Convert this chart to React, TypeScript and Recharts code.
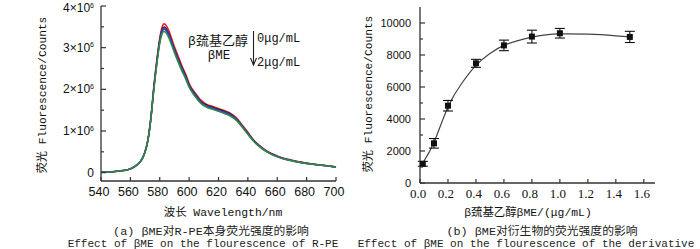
import React from 'react';
import { LineChart, Line, XAxis, YAxis, ComposedChart, Scatter, ErrorBar } from 'recharts';

// (a) emission spectra, wavelength in nm, intensity in 10^6 counts
const wavelength = [540, 545, 550, 555, 560, 565, 568, 570, 572, 574, 576, 578, 580, 582, 583, 584, 586, 588, 590, 592, 595, 598, 600, 604, 608, 612, 616, 620, 624, 628, 632, 636, 640, 644, 648, 652, 656, 660, 665, 670, 675, 680, 685, 690, 695, 700];
const specRed = [0.01, 0.015, 0.03, 0.05, 0.09, 0.2, 0.33, 0.5, 0.8, 1.33, 2.07, 2.7, 3.23, 3.53, 3.57, 3.55, 3.42, 3.23, 3.02, 2.84, 2.57, 2.33, 2.14, 1.92, 1.74, 1.64, 1.59, 1.54, 1.49, 1.43, 1.32, 1.15, 0.97, 0.78, 0.65, 0.54, 0.46, 0.4, 0.34, 0.3, 0.26, 0.23, 0.2, 0.18, 0.16, 0.14];
const specBlack = [0.01, 0.015, 0.03, 0.05, 0.09, 0.2, 0.33, 0.5, 0.79, 1.32, 2.05, 2.67, 3.19, 3.47, 3.5, 3.48, 3.35, 3.17, 2.97, 2.79, 2.53, 2.3, 2.11, 1.89, 1.71, 1.62, 1.57, 1.52, 1.47, 1.41, 1.3, 1.13, 0.95, 0.77, 0.64, 0.53, 0.45, 0.39, 0.33, 0.29, 0.26, 0.23, 0.2, 0.18, 0.16, 0.14];
const specPurple = [0.01, 0.015, 0.03, 0.05, 0.09, 0.2, 0.33, 0.5, 0.79, 1.31, 2.02, 2.63, 3.14, 3.41, 3.44, 3.42, 3.3, 3.12, 2.92, 2.74, 2.48, 2.25, 2.07, 1.85, 1.68, 1.59, 1.54, 1.49, 1.44, 1.38, 1.28, 1.11, 0.93, 0.76, 0.63, 0.52, 0.45, 0.39, 0.33, 0.29, 0.25, 0.22, 0.2, 0.18, 0.16, 0.13];
const specBlue = [0.01, 0.015, 0.03, 0.05, 0.09, 0.2, 0.33, 0.5, 0.79, 1.32, 2.03, 2.65, 3.16, 3.43, 3.46, 3.44, 3.32, 3.14, 2.94, 2.76, 2.5, 2.27, 2.09, 1.87, 1.69, 1.6, 1.55, 1.5, 1.45, 1.39, 1.29, 1.12, 0.94, 0.76, 0.63, 0.53, 0.45, 0.39, 0.33, 0.29, 0.25, 0.22, 0.2, 0.18, 0.16, 0.13];
const specGreen = [0.01, 0.015, 0.03, 0.05, 0.09, 0.2, 0.33, 0.5, 0.78, 1.3, 2.0, 2.6, 3.1, 3.36, 3.39, 3.37, 3.25, 3.07, 2.88, 2.7, 2.45, 2.22, 2.05, 1.83, 1.66, 1.57, 1.52, 1.47, 1.42, 1.36, 1.26, 1.1, 0.92, 0.75, 0.62, 0.52, 0.44, 0.38, 0.32, 0.28, 0.25, 0.22, 0.2, 0.18, 0.16, 0.13];

// (b) derivative fluorescence vs βME concentration
const conc = [0.02, 0.1, 0.2, 0.4, 0.6, 0.8, 1.0, 1.5];
const fluor = [1200, 2480, 4830, 7480, 8600, 9150, 9360, 9130];
const fluorErr = [150, 300, 330, 250, 330, 400, 300, 350];
const fitConc = [0.02, 0.1, 0.2, 0.3, 0.4, 0.5, 0.6, 0.7, 0.8, 0.9, 1.0, 1.2, 1.4, 1.5];
const fitFluor = [1250, 2550, 4750, 6250, 7350, 8100, 8600, 8900, 9120, 9260, 9320, 9300, 9200, 9130];

const leftXTicks = [540, 560, 580, 600, 620, 640, 660, 680, 700];
const leftYTicks = [0, 0.5, 1, 1.5, 2, 2.5, 3, 3.5, 4];
const rightXTicks = [0, 0.2, 0.4, 0.6, 0.8, 1.0, 1.2, 1.4, 1.6];
const rightYTicks = [0, 1000, 2000, 3000, 4000, 5000, 6000, 7000, 8000, 9000, 10000];

const spectra = wavelength.map((wl, i) => ({
  wl,
  red: specRed[i],
  black: specBlack[i],
  purple: specPurple[i],
  blue: specBlue[i],
  green: specGreen[i],
}));
const points = conc.map((x, i) => ({ x, y: fluor[i], err: fluorErr[i] }));
const fit = fitConc.map((x, i) => ({ x, fit: fitFluor[i] }));

const AXIS = '#333';
const MONO = "'Liberation Mono', 'Noto Sans CJK SC', monospace";
const SANS = "'Liberation Sans', Arial, sans-serif";
const SERIF = "'Liberation Serif', 'Noto Sans CJK SC', serif";

function LeftXTick({ x, y, payload }: any) {
  return (
    <g>
      <line x1={x} x2={x} y1={y} y2={y - 4} stroke={AXIS} strokeWidth={1.2} />
      <text x={x - 2} y={y + 15} textAnchor="middle" fontSize={12.5} fontFamily={SANS} fill="#111">
        {payload.value}
      </text>
    </g>
  );
}

function LeftYTick({ x, y, payload }: any) {
  const v = payload.value;
  const major = Number.isInteger(v);
  const base = Math.max(y + 4, 12);
  return (
    <g>
      <line x1={x} x2={x + (major ? 5 : 3)} y1={y} y2={y} stroke={AXIS} strokeWidth={1.2} />
      {major && (
        <text x={x - 7} y={base} textAnchor="end" fontSize={12} fontFamily={SANS} fill="#111">
          {v === 0 ? '0' : `${v}×10`}
          {v !== 0 && (
            <tspan dy={-4.5} fontSize={7}>
              6
            </tspan>
          )}
        </text>
      )}
    </g>
  );
}

function RightXTick({ x, y, payload }: any) {
  return (
    <g>
      <line x1={x} x2={x} y1={y} y2={y - 4} stroke={AXIS} strokeWidth={1.2} />
      <text x={x - 2} y={y + 15} textAnchor="middle" fontSize={13} fontFamily={SERIF} fill="#111">
        {payload.value.toFixed(1)}
      </text>
    </g>
  );
}

function RightYTick({ x, y, payload }: any) {
  const v = payload.value;
  const major = v % 2000 === 0;
  return (
    <g>
      <line x1={x} x2={x + (major ? 5 : 3)} y1={y} y2={y} stroke={AXIS} strokeWidth={1.2} />
      {major && (
        <text x={x - 9} y={y + 4} textAnchor="end" fontSize={11} fontFamily={SANS} fill="#111">
          {v}
        </text>
      )}
    </g>
  );
}

function SquareDot({ cx, cy }: any) {
  return <rect x={cx - 3} y={cy - 3} width={6} height={6} fill="#111" />;
}

export default function App() {
  return (
    <div style={{ position: 'absolute', left: 0, top: 0, width: 700, height: 249, background: '#fff', overflow: 'hidden' }}>
      <div style={{ position: 'absolute', left: 0, top: 0 }}>
        <LineChart width={350} height={249} data={spectra} margin={{ top: 6, right: 14, bottom: 48, left: 41 }}>
          <XAxis
            type="number"
            dataKey="wl"
            domain={[540, 700]}
            ticks={leftXTicks}
            height={20}
            tickSize={0}
            tickMargin={0}
            tickLine={false}
            axisLine={{ stroke: AXIS, strokeWidth: 1.3 }}
            tick={<LeftXTick />}
            interval={0}
          />
          <YAxis
            type="number"
            domain={[-0.2, 4]}
            ticks={leftYTicks}
            width={60}
            tickSize={0}
            tickMargin={0}
            tickLine={false}
            axisLine={{ stroke: AXIS, strokeWidth: 1.3 }}
            tick={<LeftYTick />}
            interval={0}
          />
          <Line type="monotone" dataKey="red" stroke="#e3262b" strokeWidth={1.6} dot={false} isAnimationActive={false} />
          <Line type="monotone" dataKey="black" stroke="#222" strokeWidth={1.4} dot={false} isAnimationActive={false} />
          <Line type="monotone" dataKey="purple" stroke="#8b3c9e" strokeWidth={1.4} dot={false} isAnimationActive={false} />
          <Line type="monotone" dataKey="blue" stroke="#3342c4" strokeWidth={1.5} dot={false} isAnimationActive={false} />
          <Line type="monotone" dataKey="green" stroke="#2f8a3c" strokeWidth={1.5} dot={false} isAnimationActive={false} />
        </LineChart>
      </div>

      <div style={{ position: 'absolute', left: 350, top: 0 }}>
        <ComposedChart width={350} height={249} margin={{ top: 7, right: 45, bottom: 46, left: 20 }}>
          <XAxis
            type="number"
            dataKey="x"
            domain={[0, 1.68]}
            ticks={rightXTicks}
            height={20}
            tickSize={0}
            tickMargin={0}
            tickLine={false}
            axisLine={{ stroke: AXIS, strokeWidth: 1.3 }}
            tick={<RightXTick />}
            interval={0}
            allowDataOverflow
          />
          <YAxis
            type="number"
            domain={[0, 11000]}
            ticks={rightYTicks}
            width={50}
            tickSize={0}
            tickMargin={0}
            tickLine={false}
            axisLine={{ stroke: AXIS, strokeWidth: 1.3 }}
            tick={<RightYTick />}
            interval={0}
          />
          <Line data={fit} type="natural" dataKey="fit" stroke="#444" strokeWidth={1.2} dot={false} isAnimationActive={false} />
          <Scatter data={points} dataKey="y" shape={<SquareDot />} isAnimationActive={false}>
            <ErrorBar dataKey="err" direction="y" width={5} stroke="#111" strokeWidth={1.1} />
          </Scatter>
        </ComposedChart>
      </div>

      <svg width={700} height={249} style={{ position: 'absolute', left: 0, top: 0, pointerEvents: 'none' }}>
        {/* legend note in (a) */}
        <text x={218} y={45} textAnchor="middle" fontSize={13} fontFamily={MONO} fill="#111">β巯基乙醇</text>
        <text x={219} y={59} textAnchor="middle" fontSize={12.5} fontFamily={MONO} fill="#111">βME</text>
        <line x1={253.5} x2={253.5} y1={31} y2={65} stroke="#222" strokeWidth={1.1} />
        <polyline points="250.5,58 253.5,65 256.5,58" fill="none" stroke="#222" strokeWidth={1.1} />
        <text x={257} y={42} fontSize={12} fontFamily={MONO} fill="#111">0μg/mL</text>
        <text x={257} y={66} fontSize={12} fontFamily={MONO} fill="#111">2μg/mL</text>

        {/* axis titles */}
        <text transform="translate(46,95) rotate(-90)" textAnchor="middle" fontSize={11.2} fontFamily={MONO} fill="#111">荧光 Fluorescence/Counts</text>
        <text transform="translate(372,94) rotate(-90)" textAnchor="middle" fontSize={11.2} fontFamily={MONO} fill="#111">荧光 Fluorescence/Counts</text>
        <text x={223} y={216} textAnchor="middle" fontSize={11.4} fontFamily={MONO} fill="#111">波长 Wavelength/nm</text>
        <text x={528} y={216} textAnchor="middle" fontSize={11.4} fontFamily={MONO} fill="#111">β巯基乙醇βME/(μg/mL)</text>

        {/* captions */}
        <text x={211} y={234.5} textAnchor="middle" fontSize={11.8} fontFamily={MONO} fill="#222">(a) βME对R-PE本身荧光强度的影响</text>
        <text x={203} y={246.5} textAnchor="middle" fontSize={11} fontFamily={MONO} fill="#222">Effect of βME on the flourescence of R-PE</text>
        <text x={542} y={234.5} textAnchor="middle" fontSize={11.8} fontFamily={MONO} fill="#222">(b) βME对衍生物的荧光强度的影响</text>
        <text x={526} y={246.5} textAnchor="middle" fontSize={11} fontFamily={MONO} fill="#222">Effect  of βME on the flourescence of the derivative</text>
      </svg>
    </div>
  );
}
